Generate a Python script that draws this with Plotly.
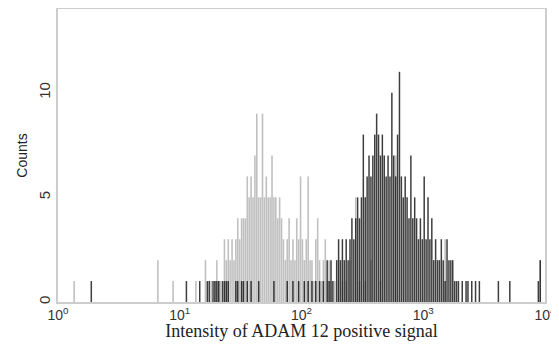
import plotly.graph_objects as go

# 256 log channels spanning 4 decades (64 channels per decade)
n_channels = 256
channels_per_decade = 64

gray_counts = [
    0,0,0,0,0,0,0,0,1,0,0,0,0,0,0,0,
    0,0,0,0,0,0,0,0,0,0,0,0,0,0,0,0,
    0,0,0,0,0,0,0,0,0,0,0,0,0,0,0,0,
    0,0,0,0,2,0,0,0,0,0,0,0,1,0,0,0,
    0,0,0,0,0,0,0,0,1,0,0,0,0,2,0,0,
    1,0,1,2,1,1,0,3,2,3,2,3,2,3,4,3,
    4,4,4,6,5,6,5,7,9,5,5,9,5,6,5,5,
    7,5,5,4,5,4,3,2,3,4,2,3,2,4,3,6,
    3,2,3,6,2,2,1,3,4,2,1,2,3,1,2,1,
    0,1,0,2,0,1,0,1,0,2,0,0,5,0,1,0,
    0,1,0,0,2,0,0,0,0,1,0,0,0,0,0,0,
    0,7,0,0,0,0,0,0,0,0,0,0,0,0,0,0,
    0,0,0,0,0,0,0,0,0,0,0,3,0,0,0,0,
    0,0,0,0,0,0,0,0,0,0,0,0,0,0,0,0,
    0,0,0,0,0,0,0,0,0,0,0,0,0,0,0,0,
    0,0,0,0,0,0,0,0,0,0,0,0,0,2,0,0,
]

black_counts = [
    0,0,0,0,0,0,0,0,0,0,0,0,0,0,0,0,
    0,1,0,0,0,0,0,0,0,0,0,0,0,0,0,0,
    0,0,0,0,0,0,0,0,0,0,0,0,0,0,0,0,
    0,0,0,0,0,0,0,0,0,0,0,0,0,0,0,0,
    0,0,0,1,0,0,0,0,0,0,1,0,0,0,1,1,
    0,1,1,1,1,0,1,1,1,1,0,0,0,1,1,0,
    1,1,0,1,0,1,0,0,0,1,0,0,0,0,0,0,
    0,1,0,0,0,0,0,0,1,0,0,1,0,0,1,0,
    0,1,0,1,0,1,0,1,0,1,0,1,0,2,1,2,
    1,0,2,3,2,3,2,3,2,3,4,3,4,5,4,5,
    8,5,6,7,6,7,8,9,8,7,8,7,6,7,6,10,
    7,6,8,11,6,5,6,5,4,7,4,5,4,3,4,3,
    6,3,5,3,4,2,3,2,2,3,2,1,3,2,2,2,
    1,1,1,0,1,0,1,1,0,1,0,1,0,1,0,0,
    0,0,0,0,0,0,0,1,0,0,0,0,0,1,0,0,
    0,0,0,0,0,0,0,0,0,0,0,0,1,2,0,0,
]

x_tickvals = [1, 10, 100, 1000, 10000]
x_ticktext = ["10<sup>0</sup>", "10<sup>1</sup>", "10<sup>2</sup>", "10<sup>3</sup>", "10<sup>4</sup>"]
y_tickvals = [0, 5, 10]
x_title = "Intensity of ADAM 12 positive signal"
y_title = "Counts"


def spikes(counts):
    xs, ys = [], []
    for i, c in enumerate(counts):
        if c <= 0:
            continue
        v = 10 ** ((i + 0.5) / channels_per_decade)
        xs += [v, v, None]
        ys += [0, c, None]
    return xs, ys


fig = go.Figure()
gx, gy = spikes(gray_counts)
bx, by = spikes(black_counts)
fig.add_trace(go.Scatter(x=gx, y=gy, mode="lines",
                         line=dict(color="rgba(165,165,165,0.7)", width=1.6),
                         hoverinfo="skip", showlegend=False))
fig.add_trace(go.Scatter(x=bx, y=by, mode="lines",
                         line=dict(color="rgba(20,20,20,0.82)", width=1.5),
                         hoverinfo="skip", showlegend=False))

axis_line = dict(showline=True, mirror=True, linecolor="#cdcdcd", linewidth=2,
                 showgrid=False, zeroline=False, ticks="", automargin=False)

# the page body adds an 8px offset, so the figure is sized to fit the window
fig.update_layout(
    width=551, height=333,
    margin=dict(l=50, r=14, t=1, b=39),
    paper_bgcolor="white", plot_bgcolor="white",
    xaxis=dict(type="log", range=[0, 4], tickvals=x_tickvals, ticktext=x_ticktext,
               tickfont=dict(family="Liberation Sans, Arial", size=14, color="#333"),
               ticklabelstandoff=-1, ticklabeloverflow="allow",
               title=dict(text=x_title, standoff=8,
                          font=dict(family="Liberation Serif, Times New Roman", size=18, color="#222")),
               **axis_line),
    yaxis=dict(range=[0, 14], tickvals=y_tickvals, tickangle=-90,
               tickfont=dict(family="Liberation Sans, Arial", size=15, color="#333"),
               ticklabelstandoff=0,
               title=dict(text=y_title, standoff=5,
                          font=dict(family="Liberation Sans, Arial", size=14, color="#222")),
               **axis_line),
)

fig.write_html("out.html")
